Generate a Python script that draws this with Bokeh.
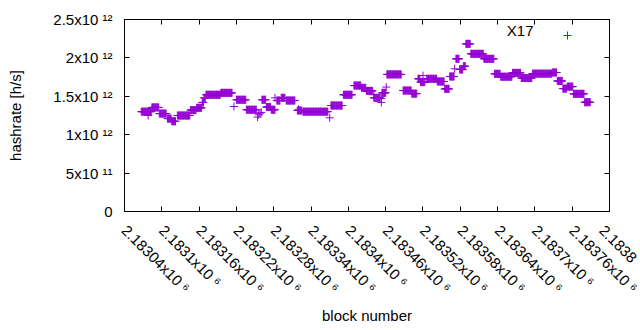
import math
from bokeh.plotting import figure
from bokeh.models import (LinearAxis, FixedTicker, Range1d, Label, Legend,
                          LegendItem, ColumnDataSource)
from bokeh.embed import file_html
from bokeh.resources import INLINE

# ---- data ----
# runs of consecutive blocks sharing the same estimated hashrate
run_first = [2183067, 2183084, 2183096, 2183109, 2183116, 2183125, 2183146, 2183156,
             2183165, 2183168, 2183171, 2183195, 2183216, 2183220, 2183236, 2183254,
             2183256, 2183258, 2183261, 2183268, 2183276, 2183285, 2183292, 2183300,
             2183318, 2183327, 2183370, 2183372, 2183392, 2183409, 2183421, 2183429,
             2183441, 2183453, 2183454, 2183462, 2183488, 2183502, 2183512, 2183516,
             2183526, 2183543, 2183555, 2183563, 2183571, 2183573, 2183579, 2183585,
             2183589, 2183597, 2183618, 2183635, 2183645, 2183664, 2183678, 2183696,
             2183728, 2183736, 2183745, 2183752, 2183762, 2183780]
run_last = [2183083, 2183095, 2183107, 2183115, 2183122, 2183145, 2183155, 2183164,
            2183167, 2183170, 2183194, 2183213, 2183216, 2183235, 2183252, 2183254,
            2183256, 2183258, 2183267, 2183275, 2183282, 2183290, 2183298, 2183314,
            2183325, 2183367, 2183370, 2183390, 2183406, 2183420, 2183428, 2183439,
            2183451, 2183453, 2183460, 2183485, 2183501, 2183510, 2183515, 2183523,
            2183542, 2183554, 2183562, 2183570, 2183571, 2183578, 2183584, 2183588,
            2183596, 2183617, 2183634, 2183644, 2183663, 2183677, 2183695, 2183727,
            2183735, 2183744, 2183751, 2183761, 2183779, 2183789]
run_rate = [1.300e12, 1.355e12, 1.275e12, 1.210e12, 1.175e12, 1.250e12, 1.320e12, 1.350e12,
            1.420e12, 1.480e12, 1.520e12, 1.545e12, 1.367e12, 1.455e12, 1.325e12, 1.230e12,
            1.260e12, 1.280e12, 1.455e12, 1.360e12, 1.325e12, 1.445e12, 1.480e12, 1.445e12,
            1.315e12, 1.300e12, 1.220e12, 1.380e12, 1.520e12, 1.640e12, 1.610e12, 1.570e12,
            1.480e12, 1.420e12, 1.545e12, 1.785e12, 1.575e12, 1.535e12, 1.728e12, 1.685e12,
            1.728e12, 1.693e12, 1.597e12, 1.758e12, 1.858e12, 1.988e12, 1.849e12, 1.892e12,
            2.183e12, 2.053e12, 1.988e12, 1.793e12, 1.755e12, 1.805e12, 1.738e12, 1.795e12,
            1.810e12, 1.700e12, 1.600e12, 1.626e12, 1.532e12, 1.423e12]
# isolated extra estimates
extra_block = [2183078, 2183461, 2183441, 2183453, 2183520, 2183260, 2183282, 2183320]
extra_rate = [1.250e12, 1.620e12, 1.520e12, 1.470e12, 1.770e12, 1.290e12, 1.480e12, 1.330e12]

x_ticks = [2183040, 2183100, 2183160, 2183220, 2183280, 2183340, 2183400,
           2183460, 2183520, 2183580, 2183640, 2183700, 2183760, 2183820]
# the last label is cut by the right edge in the reference: only its start shows
x_tick_labels = ["2.18304x10 \u2076", "2.1831x10 \u2076", "2.18316x10 \u2076",
                 "2.18322x10 \u2076", "2.18328x10 \u2076", "2.18334x10 \u2076",
                 "2.1834x10 \u2076", "2.18346x10 \u2076", "2.18352x10 \u2076",
                 "2.18358x10 \u2076", "2.18364x10 \u2076", "2.1837x10 \u2076",
                 "2.18376x10 \u2076", "2.1838"]
y_ticks = [0, 5e11, 1e12, 1.5e12, 2e12, 2.5e12]
y_tick_labels = ["0", "5x10 \u00b9\u00b9", "1x10 \u00b9\u00b2", "1.5x10 \u00b9\u00b2",
                 "2x10 \u00b9\u00b2", "2.5x10 \u00b9\u00b2"]

# expand the runs into one point per block
xs, ys = [], []
for f, l, r in zip(run_first, run_last, run_rate):
    for b in range(f, l + 1):
        xs.append(b)
        ys.append(r)
xs += extra_block
ys += extra_rate
src = ColumnDataSource(dict(block=xs, rate=ys))

FONT = "Liberation Sans"
COLOR = "#9400d3"
TICK_FS = "15px"

p = figure(width=640, height=330, output_backend="svg", toolbar_location=None,
           x_range=Range1d(x_ticks[0], x_ticks[-1]), y_range=Range1d(y_ticks[0], y_ticks[-1]),
           min_border_left=124, min_border_right=31, min_border_top=19,
           min_border_bottom=119)
p.background_fill_color = "white"
p.border_fill_color = "white"
p.grid.visible = False
p.outline_line_color = "black"
p.outline_line_width = 1

r = p.scatter("block", "rate", source=src, marker="cross", size=8,
              line_color=COLOR, line_width=1)

def style_axis(ax):
    ax.axis_line_color = "black"
    ax.major_tick_line_color = "black"
    ax.major_tick_in = 5
    ax.major_tick_out = 0
    ax.minor_tick_line_color = None
    ax.major_label_text_font = FONT
    ax.major_label_text_font_size = TICK_FS
    ax.major_label_text_color = "black"
    ax.axis_label_text_font = FONT
    ax.axis_label_text_font_style = "normal"
    ax.axis_label_text_color = "black"

xax = p.xaxis[0]
yax = p.yaxis[0]
style_axis(xax)
style_axis(yax)
xax.ticker = FixedTicker(ticks=x_ticks)
xax.major_label_overrides = dict(zip(x_ticks, x_tick_labels))
xax.major_label_orientation = -math.pi / 4
xax.major_label_standoff = 16
xax.axis_label = "block number"
xax.axis_label_text_font_size = "15px"
xax.axis_label_standoff = 2

yax.ticker = FixedTicker(ticks=y_ticks)
yax.major_label_overrides = dict(zip(y_ticks, y_tick_labels))
yax.major_label_standoff = 12
yax.axis_label = "hashrate [h/s]"
yax.axis_label_text_font_size = "15px"
yax.axis_label_standoff = 26

# mirrored ticks on top and right, without labels
top = LinearAxis(ticker=FixedTicker(ticks=x_ticks))
right = LinearAxis(ticker=FixedTicker(ticks=y_ticks))
for ax, ticks in ((top, x_ticks), (right, y_ticks)):
    style_axis(ax)
    ax.major_label_overrides = {t: "" for t in ticks}
    ax.major_label_standoff = 0
p.add_layout(top, "above")
p.add_layout(right, "right")

# key: title text followed by the sample point
p.add_layout(Label(x=409, y=181, x_units="screen", y_units="screen", text="X17",
                   text_align="right", text_baseline="middle", text_font=FONT,
                   text_font_size="15px", text_color="black"))
leg = Legend(items=[LegendItem(label=" ", renderers=[r])], location=(433, 166),
             border_line_color=None, background_fill_alpha=0, padding=0, margin=0,
             glyph_width=20, glyph_height=20, label_standoff=0, label_width=0,
             label_text_font_size="4px")
p.add_layout(leg)

open("out.html", "w").write(file_html(p, INLINE))
